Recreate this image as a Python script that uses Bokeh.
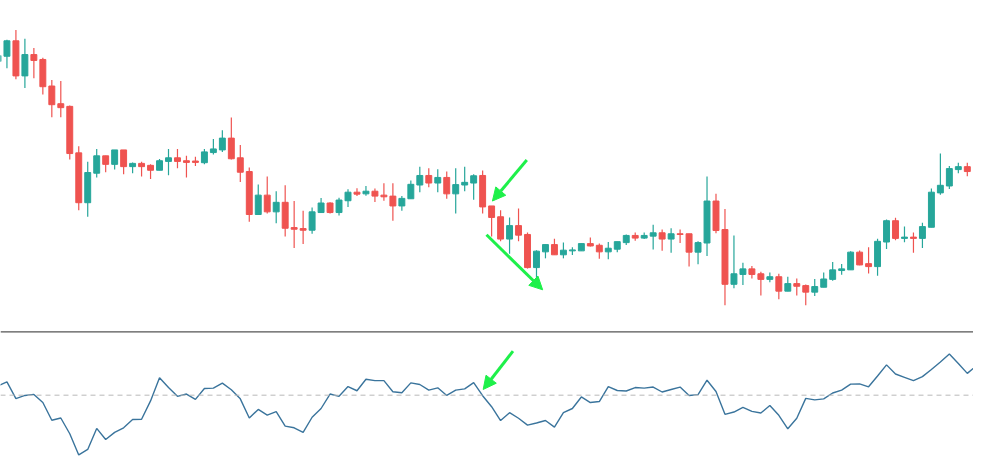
from bokeh.plotting import figure
from bokeh.models import Range1d, Span, Arrow, NormalHead, ColumnDataSource
from bokeh.embed import file_html
from bokeh.resources import INLINE

# ---- candle data (bar index -1 .. 107) ----
candle_idx = list(range(-1, 108))
opens = [43.80, 44.33, 45.90, 42.33, 44.50, 44.00, 41.30, 39.50, 39.23, 34.50, 29.43,
         32.43, 34.20, 33.33, 34.80, 33.10, 33.43, 33.23, 32.73, 33.63, 34.00,
         33.70, 33.67, 33.50, 34.53, 34.80, 36.00, 34.00, 32.60, 28.23, 30.20,
         28.50, 29.47, 26.90, 26.80, 26.63, 28.43, 29.40, 28.43, 29.63, 30.50,
         30.33, 30.60, 30.20, 30.10, 29.10, 29.83, 31.23, 32.20, 31.43, 32.00,
         30.33, 31.23, 31.43, 32.20, 29.10, 28.00, 25.73, 27.10, 26.20, 22.83,
         24.43, 25.17, 24.13, 24.53, 24.53, 25.27, 25.10, 24.43, 24.70, 25.37,
         26.10, 25.83, 26.03, 26.37, 25.73, 26.27, 26.27, 24.40, 25.33, 29.60,
         26.70, 21.13, 22.13, 22.70, 22.20, 21.63, 21.90, 20.43, 21.20, 21.00,
         20.33, 20.83, 21.63, 22.53, 22.60, 24.40, 23.23, 22.93, 25.43, 27.60,
         25.80, 25.93, 25.80, 26.93, 30.43, 31.13, 32.80, 33.10]
highs = [44.70, 46.00, 47.00, 46.10, 45.17, 44.17, 41.90, 41.80, 39.33, 35.17, 33.60,
         34.90, 34.20, 34.80, 34.80, 33.53, 33.60, 33.33, 33.87, 34.90, 34.90,
         34.20, 34.10, 34.90, 35.90, 36.80, 38.10, 35.30, 33.00, 31.27, 32.10,
         30.60, 31.20, 29.60, 28.60, 28.93, 29.90, 29.47, 29.93, 30.80, 30.90,
         31.13, 30.87, 31.40, 31.40, 30.10, 31.70, 33.10, 32.93, 32.83, 32.60,
         32.93, 33.10, 32.33, 32.70, 29.10, 28.67, 27.93, 28.83, 26.40, 24.60,
         25.17, 25.77, 25.37, 24.90, 25.27, 25.90, 25.27, 25.43, 25.47, 26.20,
         26.40, 26.40, 27.20, 26.70, 26.83, 26.70, 26.27, 25.50, 32.10, 30.33,
         28.80, 26.10, 23.33, 23.00, 22.40, 22.33, 22.20, 21.90, 21.73, 21.10,
         21.67, 22.33, 23.40, 23.20, 24.50, 24.57, 24.90, 25.77, 27.73, 27.90,
         27.00, 26.40, 27.40, 30.87, 34.43, 33.17, 33.50, 33.50]
lows = [43.50, 43.10, 42.00, 41.10, 42.10, 40.43, 38.13, 38.13, 33.83, 28.67, 28.00,
        32.00, 32.53, 32.80, 32.33, 32.43, 32.10, 31.83, 32.73, 32.23, 32.93,
        32.00, 33.17, 33.33, 34.33, 34.60, 33.83, 31.53, 27.50, 28.23, 28.33,
        27.33, 26.00, 24.83, 25.23, 26.27, 28.43, 28.33, 28.13, 29.00, 30.10,
        30.13, 29.50, 29.63, 27.60, 28.60, 29.83, 30.50, 31.00, 30.50, 29.83,
        28.33, 30.60, 29.73, 28.33, 26.00, 25.50, 24.23, 25.50, 22.73, 21.67,
        23.77, 24.13, 23.77, 24.10, 24.53, 24.97, 23.73, 23.67, 24.40, 25.13,
        25.57, 25.73, 24.67, 24.53, 24.33, 25.33, 22.93, 23.17, 24.00, 26.33,
        19.00, 20.73, 21.07, 21.73, 20.00, 21.33, 19.60, 20.43, 20.00, 19.00,
        19.93, 20.83, 21.50, 22.10, 22.60, 23.07, 22.23, 22.00, 24.73, 25.60,
        25.40, 24.33, 24.83, 26.93, 30.23, 30.83, 32.43, 32.13]
closes = [44.40, 45.90, 42.33, 44.50, 43.90, 41.23, 39.40, 39.10, 34.43, 29.43, 32.50,
          34.20, 33.33, 34.80, 33.10, 33.43, 33.10, 32.73, 33.70, 34.00, 33.63,
          33.53, 33.53, 34.60, 34.90, 36.00, 33.90, 32.53, 28.23, 30.20, 28.50,
          29.47, 26.83, 26.73, 26.63, 28.50, 29.40, 28.43, 29.70, 30.50, 30.30,
          30.60, 30.10, 30.03, 29.10, 29.87, 31.30, 32.20, 31.43, 32.00, 30.33,
          31.27, 31.50, 32.17, 29.00, 27.93, 25.73, 27.10, 26.13, 22.83, 24.50,
          25.17, 24.13, 24.60, 24.63, 25.27, 25.03, 24.43, 24.80, 25.47, 26.10,
          25.83, 26.10, 26.37, 25.73, 26.27, 26.20, 24.40, 25.37, 29.60, 26.60,
          21.13, 22.20, 22.70, 22.13, 21.63, 21.90, 20.43, 21.20, 20.93, 20.33,
          20.90, 21.67, 22.60, 22.70, 24.40, 23.10, 22.93, 25.50, 27.60, 25.80,
          25.93, 25.80, 27.00, 30.50, 31.20, 32.90, 33.10, 32.60]

# ---- oscillator (bar index -1 .. 108) ----
osc_idx = list(range(-1, 109))
osc = [57.4, 60.5, 47.3, 49.8, 50.6, 44.2, 30.2, 32.0, 19.6, 2.9, 7.2,
       23.8, 15.0, 20.7, 24.3, 30.8, 31.0, 45.5, 63.8, 56.0, 49.1,
       50.9, 46.7, 55.3, 55.6, 59.5, 54.3, 47.1, 32.0, 38.8, 34.3,
       37.0, 25.6, 24.3, 20.7, 32.6, 39.5, 50.9, 49.1, 56.8, 53.5,
       62.6, 61.5, 61.5, 52.7, 51.9, 59.7, 58.4, 54.0, 55.8, 49.8,
       54.0, 55.0, 59.9, 49.6, 40.9, 30.0, 36.2, 31.8, 26.4, 28.1,
       30.0, 24.8, 36.2, 39.5, 48.6, 44.2, 45.0, 56.8, 53.7, 53.3,
       56.0, 55.6, 56.4, 52.5, 54.5, 56.4, 49.8, 50.4, 61.8, 52.9,
       34.9, 36.7, 40.3, 37.2, 35.9, 41.9, 34.1, 23.5, 31.8, 47.5,
       46.3, 47.1, 51.7, 54.0, 58.7, 58.9, 56.6, 65.1, 73.9, 66.7,
       64.1, 61.5, 64.6, 70.3, 76.2, 82.4, 75.0, 67.2, 73.2]
osc_mid = 50
osc_top = 100

# ---- annotation arrows (bar index, price / oscillator value) ----
arrow_x_start = [57.92, 53.43]
arrow_y_start = [33.77, 26.17]
arrow_x_end = [54.09, 59.69]
arrow_y_end = [29.60, 20.57]
osc_arrow_x = [56.38, 53.06]
osc_arrow_y = [84.7, 54.5]

UP = "#26a69a"
DOWN = "#ef5350"
GREEN = "#1ef04a"

p = figure(width=973, height=463, output_backend="svg", toolbar_location=None,
           x_range=Range1d(-0.718, 107.69), y_range=Range1d(2.9, 50.0),
           x_axis_type=None, y_axis_type=None, min_border=0)
p.outline_line_color = None
p.grid.visible = False
p.background_fill_color = "white"
p.border_fill_color = "white"
p.extra_y_ranges = {"osc": Range1d(-3.876, 361.24)}

colors = [UP if c >= o else DOWN for o, c in zip(opens, closes)]
src = ColumnDataSource(dict(
    x=candle_idx, o=opens, h=highs, l=lows, c=closes,
    top=[max(o, c) for o, c in zip(opens, closes)],
    bot=[min(o, c) for o, c in zip(opens, closes)],
    color=colors))

p.segment(x0="x", y0="h", x1="x", y1="l", source=src, line_color="color", line_width=1.2)
p.vbar(x="x", width=0.66, top="top", bottom="bot", source=src,
       fill_color="color", line_color="color", line_width=1)

# separator and midline
p.add_layout(Span(location=osc_top, dimension="width", y_range_name="osc",
                  line_color="#555555", line_width=1.2))
p.add_layout(Span(location=osc_mid, dimension="width", y_range_name="osc",
                  line_color="#b8b8b8", line_width=1, line_dash="5 4"))

p.line(osc_idx, osc, y_range_name="osc", line_color="#3a749c", line_width=1.4)

for xs, ys, xe, ye in zip(arrow_x_start, arrow_y_start, arrow_x_end, arrow_y_end):
    p.add_layout(Arrow(x_start=xs, y_start=ys, x_end=xe, y_end=ye,
                       line_color=GREEN, line_width=3,
                       end=NormalHead(size=13, fill_color=GREEN, line_color=GREEN)))
p.add_layout(Arrow(x_start=osc_arrow_x[0], y_start=osc_arrow_y[0],
                   x_end=osc_arrow_x[1], y_end=osc_arrow_y[1], y_range_name="osc",
                   line_color=GREEN, line_width=3,
                   end=NormalHead(size=13, fill_color=GREEN, line_color=GREEN)))

open("out.html", "w").write(file_html(p, INLINE))
